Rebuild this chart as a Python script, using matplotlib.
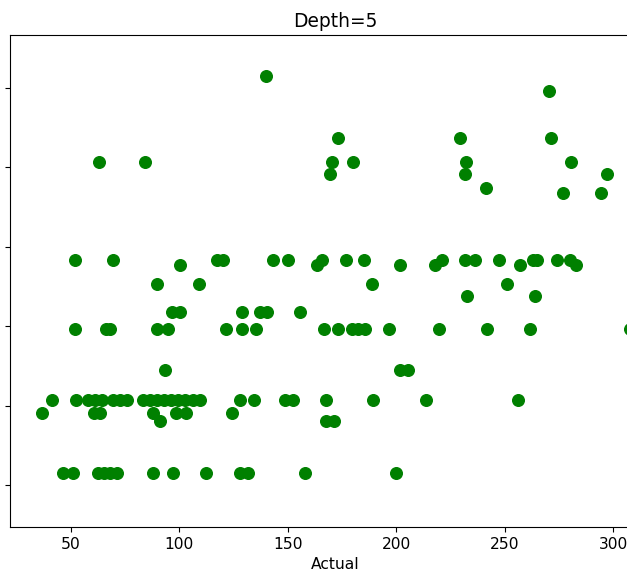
import numpy as np
import matplotlib
matplotlib.use('Agg')
import matplotlib.pyplot as plt

# predicted values (tree leaves) and the actual values that fall into each
levels = [307.6, 298.1, 268.5, 253.4, 245.8, 237.0, 233.9, 191.7, 188.5,
          176.6, 169.0, 158.9, 148.2, 122.4, 103.5, 95.3, 90.3, 57.6]
actual_by_level = [
    [139.9],
    [270.5],
    [173.2, 229.4, 271.4],
    [62.9, 84.1, 170.4, 180.1, 232.2, 280.6],
    [169.5, 231.7, 297.2],
    [241.4],
    [276.9, 294.5],
    [51.8, 69.4, 117.3, 120.1, 143.2, 150.1, 165.8, 176.8, 185.1, 221.1,
     231.7, 236.3, 247.4, 263.1, 264.9, 274.2, 280.2],
    [100.3, 163.5, 201.8, 217.9, 257.1, 282.9],
    [89.7, 109.0, 188.8, 251.1],
    [232.7, 264.0],
    [96.6, 100.3, 128.9, 137.2, 140.4, 155.6],
    [51.8, 66.1, 68.0, 89.7, 94.7, 121.5, 128.9, 135.3, 166.7, 173.2,
     179.6, 182.4, 185.6, 196.7, 219.7, 241.9, 261.7, 307.8],
    [93.4, 201.8, 205.4],
    [41.2, 52.3, 57.8, 61.1, 64.3, 69.4, 72.6, 75.8, 83.2, 86.4, 89.7,
     92.9, 96.1, 99.4, 102.6, 106.3, 109.5, 128.0, 134.4, 148.7, 152.4,
     167.6, 189.3, 213.7, 256.2],
    [36.6, 60.6, 63.4, 87.8, 98.4, 103.0, 124.3],
    [91.1, 167.6, 171.3],
    [46.3, 50.9, 62.5, 65.2, 68.0, 71.2, 87.8, 97.0, 112.3, 128.0, 131.6,
     157.9, 199.9],
]

actual = np.concatenate([np.array(a) for a in actual_by_level])
predicted = np.repeat(levels, [len(a) for a in actual_by_level])

plt.rcParams['font.size'] = 11.2

fig = plt.figure(figsize=(6.27, 5.79), dpi=100)
# the original picture is cropped: left labels and right spine fall outside
ax = fig.add_axes((10/627, 52/579, 651/627, 492/579))
ax.scatter(actual, predicted, c='green', s=70)
ax.set_xlim(22, 322)
ax.set_ylim(23.6, 333.4)
ax.set_xticks([50, 100, 150, 200, 250, 300])
ax.set_yticks([50, 100, 150, 200, 250, 300])
ax.tick_params(axis='y', labelleft=False)
ax.set_title('Depth=5')
ax.set_xlabel('Actual')

fig.savefig('out.png', dpi=100)
